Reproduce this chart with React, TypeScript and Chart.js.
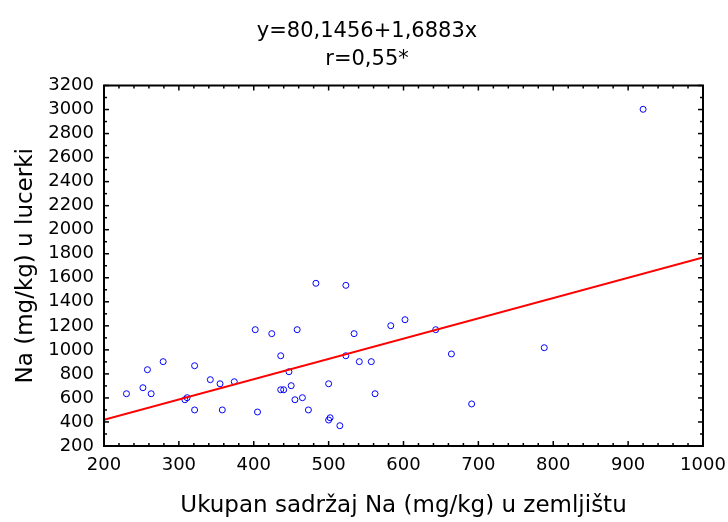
import React, { useEffect, useRef } from "react";
import { Chart, registerables } from "chart.js";

Chart.register(...registerables);

// Ukupan sadržaj Na u zemljištu (x) i Na u lucerki (y), mg/kg
const soilNa = [230, 252, 258, 263, 279, 308, 311, 321, 321, 342, 355, 358, 374, 402, 405, 424, 436, 436, 440, 447, 450, 455, 458, 465, 473, 483, 500, 500, 502, 515, 523, 523, 534, 541, 557, 562, 583, 602, 643, 664, 691, 788, 920];
const alfalfaNa = [635, 685, 835, 635, 902, 585, 602, 868, 500, 752, 718, 500, 735, 1168, 483, 1135, 951, 668, 668, 818, 702, 585, 1168, 602, 500, 1554, 718, 416, 435, 369, 1537, 951, 1135, 902, 902, 635, 1201, 1251, 1168, 966, 550, 1018, 3002];

const intercept = 80.1456;
const slope = 1.6883;
const fitX = [200, 1000];

const titleLines = ["y=80,1456+1,6883x", "r=0,55*"];
const xTitle = "Ukupan sadržaj Na (mg/kg) u zemljištu";
const yTitle = "Na (mg/kg) u lucerki";

const xRange = [200, 1000];
const yRange = [200, 3200];

const FONT = "'DejaVu Sans', sans-serif";

const framePlugin = {
  id: "frameTicks",
  afterDraw(chart: any) {
    const { ctx, chartArea: a, scales } = chart;
    const xs = scales.x;
    const ys = scales.y;
    ctx.save();
    ctx.strokeStyle = "#000";
    ctx.lineWidth = 1.5;
    const seg = (x1: number, y1: number, x2: number, y2: number) => {
      ctx.beginPath();
      ctx.moveTo(x1, y1);
      ctx.lineTo(x2, y2);
      ctx.stroke();
    };
    for (let v = xRange[0]; v <= xRange[1]; v += 20) {
      const px = xs.getPixelForValue(v);
      const len = v % 100 === 0 ? 5 : 3;
      seg(px, a.bottom, px, a.bottom - len);
      seg(px, a.top, px, a.top + len);
    }
    for (let v = yRange[0]; v <= yRange[1]; v += 100) {
      const py = ys.getPixelForValue(v);
      const len = v % 200 === 0 ? 5 : 3;
      seg(a.left, py, a.left + len, py);
      seg(a.right, py, a.right - len, py);
    }
    ctx.lineWidth = 2;
    ctx.strokeRect(a.left, a.top, a.right - a.left, a.bottom - a.top);

    ctx.fillStyle = "#000";
    ctx.font = `21px ${FONT}`;
    ctx.textAlign = "center";
    ctx.textBaseline = "alphabetic";
    ctx.fillText(titleLines[0], 367, 36.7);
    ctx.fillText(titleLines[1], 367, 65.3);
    ctx.restore();
  },
};

export default function App() {
  const canvasRef = useRef<HTMLCanvasElement | null>(null);

  useEffect(() => {
    if (!canvasRef.current) return;
    const points = soilNa.map((x, i) => ({ x, y: alfalfaNa[i] }));
    const fitLine = fitX.map((x) => ({ x, y: intercept + slope * x }));

    const chart = new Chart(canvasRef.current, {
      type: "scatter",
      data: {
        datasets: [
          {
            label: "fit",
            type: "line",
            data: fitLine,
            borderColor: "#ff0000",
            borderWidth: 2,
            pointRadius: 0,
            fill: false,
          } as any,
          {
            label: "data",
            data: points,
            borderColor: "#0000ff",
            backgroundColor: "rgba(0,0,0,0)",
            borderWidth: 1,
            pointRadius: 3,
          },
        ],
      },
      options: {
        animation: false,
        responsive: false,
        events: [],
        layout: { padding: { top: 85.5, right: 25, bottom: 0, left: 0 } },
        plugins: {
          legend: { display: false },
          tooltip: { enabled: false },
          title: { display: false },
        },
        scales: {
          x: {
            type: "linear",
            min: xRange[0],
            max: xRange[1],
            grid: { display: true, drawOnChartArea: false, drawTicks: false },
            border: { display: false },
            ticks: {
              stepSize: 100,
              padding: 9,
              color: "#000",
              autoSkip: false,
              font: { family: FONT, size: 18 },
              maxRotation: 0,
              callback: (v: any) => String(v),
            },
            title: {
              display: true,
              text: xTitle,
              color: "#000",
              font: { family: FONT, size: 23 },
              padding: { top: 0, bottom: 2 },
            },
            afterFit: (s: any) => {
              s.height = 76;
              s.paddingLeft = 0;
              s.paddingRight = 0;
            },
          },
          y: {
            type: "linear",
            min: yRange[0],
            max: yRange[1],
            grid: { display: true, drawOnChartArea: false, drawTicks: false },
            border: { display: false },
            ticks: {
              stepSize: 200,
              padding: 10,
              color: "#000",
              autoSkip: false,
              font: { family: FONT, size: 18 },
              callback: (v: any) => String(v),
            },
            title: {
              display: true,
              text: yTitle,
              color: "#000",
              font: { family: FONT, size: 23 },
              padding: { top: 12, bottom: 0 },
            },
            afterFit: (s: any) => {
              s.width = 104;
              s.paddingTop = 0;
              s.paddingBottom = 0;
            },
          },
        },
      },
      plugins: [framePlugin],
    });
    return () => chart.destroy();
  }, []);

  return (
    <div style={{ position: "fixed", left: 0, top: 0, width: 728, height: 522, background: "#fff" }}>
      <canvas ref={canvasRef} width={728} height={522} />
    </div>
  );
}
